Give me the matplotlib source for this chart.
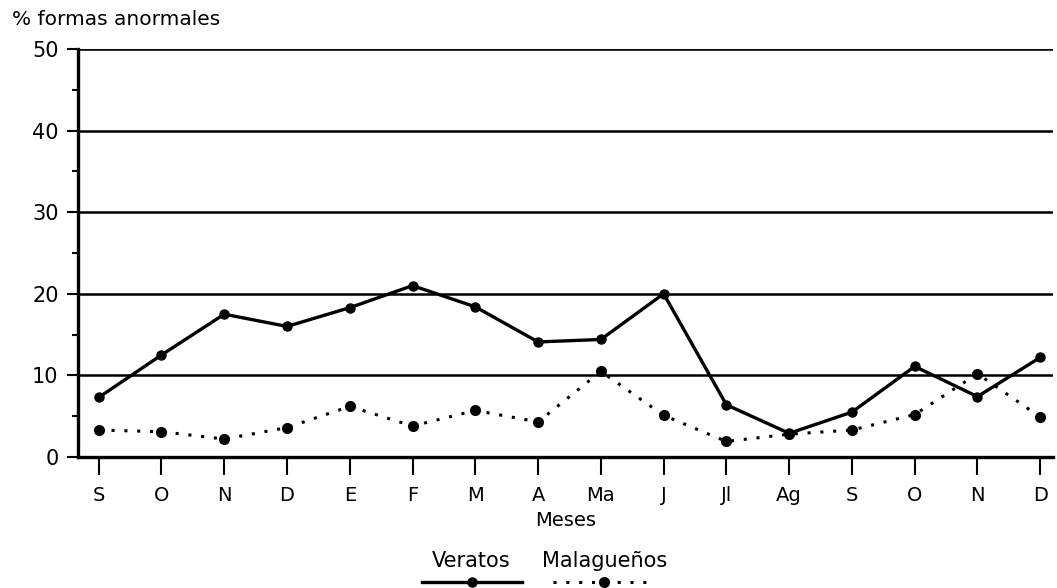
import matplotlib
matplotlib.use("Agg")
import matplotlib.pyplot as plt
from matplotlib.lines import Line2D

meses = ["S", "O", "N", "D", "E", "F", "M", "A", "Ma", "J", "Jl", "Ag", "S", "O", "N", "D"]
veratos = [7.3, 12.5, 17.5, 16.0, 18.3, 21.0, 18.4, 14.1, 14.4, 20.0, 6.4, 2.9, 5.5, 11.1, 7.4, 12.2]
malaguenos = [3.3, 3.1, 2.2, 3.6, 6.2, 3.8, 5.7, 4.3, 10.5, 5.1, 1.9, 2.8, 3.3, 5.2, 10.2, 4.9]
y_ticks = [0, 10, 20, 30, 40, 50]

plt.rcParams["font.family"] = ["DejaVu Sans"]

fig = plt.figure(figsize=(10.57, 5.88), dpi=100)
ax = fig.add_axes([0.0738, 0.2228, 0.9222, 0.6939])

x = list(range(len(meses)))

# horizontal reference lines
for yv in y_ticks[1:]:
    ax.axhline(yv, color="black", lw=1.8, zorder=1)

ax.plot(x, veratos, color="black", lw=2.4, marker="o", ms=6.5, zorder=3)
ax.plot(x, malaguenos, color="black", lw=2.2, linestyle=(0, (1, 3.2)),
        marker="o", ms=7, zorder=3)

ax.set_xlim(-0.33, 15.2)
ax.set_ylim(0, 50)

for side in ["top", "right"]:
    ax.spines[side].set_visible(False)
ax.spines["left"].set_linewidth(2.4)
ax.spines["bottom"].set_linewidth(2.4)

ax.set_xticks(x)
ax.set_xticklabels(meses, fontsize=14)
ax.set_yticks(y_ticks)
ax.set_yticklabels([str(v) for v in y_ticks], fontsize=15)
ax.set_yticks([5, 15, 25, 35, 45], minor=True)
ax.tick_params(axis="x", direction="out", length=13, width=1.5, pad=8)
ax.tick_params(axis="y", which="major", direction="out", length=8, width=1.5, pad=6)
ax.tick_params(axis="y", which="minor", direction="out", length=4, width=1.5)

ax.set_xlabel("Meses", fontsize=14, labelpad=4)
fig.text(0.011, 0.966, "% formas anormales", fontsize=14.5, ha="left", va="center")

# legend: names above their line samples
fig.text(0.446, 0.046, "Veratos", fontsize=15, ha="center", va="center")
fig.text(0.572, 0.046, "Malagueños", fontsize=15, ha="center", va="center")
ly = 0.0095
fig.add_artist(Line2D([0.399, 0.494], [ly, ly], color="black", lw=2.4))
fig.add_artist(Line2D([0.4465], [ly], color="black", marker="o", ms=6.5))
fig.add_artist(Line2D([0.523, 0.613], [ly, ly], color="black", lw=2.2,
                      linestyle=(0, (1, 3.2))))
fig.add_artist(Line2D([0.5715], [ly], color="black", marker="o", ms=7))

fig.savefig("out.png", dpi=100)
